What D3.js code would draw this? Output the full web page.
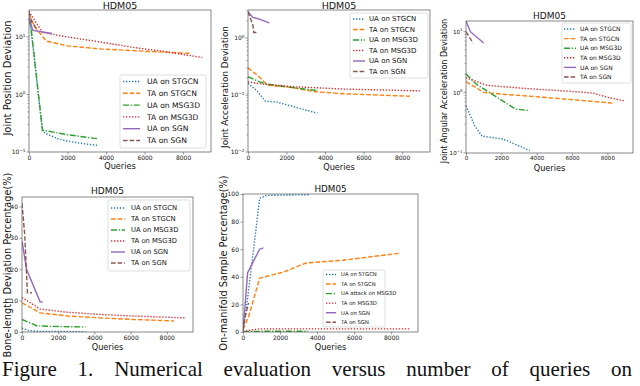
<!DOCTYPE html>
<html>
<head>
<meta charset="utf-8">
<script src="https://cdn.jsdelivr.net/npm/d3@7"></script>
<style>
  body { margin: 0; background: #fff; }
  svg { display: block; }
  text { font-family: "DejaVu Sans", sans-serif; fill: #111; }
</style>
</head>
<body>
<svg id="fig" width="640" height="386"></svg>
<script>
// noms des séries (même ordre partout)
const seriesNames = ["UA on STGCN", "TA on STGCN", "UA on MSG3D", "TA on MSG3D", "UA on SGN", "TA on SGN"];
const seriesNamesManifold = ["UA on STGCN", "TA on STGCN", "UA attack on MSG3D", "TA on MSG3D", "UA on SGN", "TA on SGN"];
const queryTicks = [0, 2000, 4000, 6000, 8000];
const boneTicks = [0, 10, 20, 30, 40];
const manifoldTicks = [0, 20, 40, 60, 80, 100];

// Joint Position Deviation  [queries, valeur]
const posUaStgcn = [[0, 20], [100, 14], [700, 0.23], [1000, 0.2], [1500, 0.17], [2000, 0.155], [2500, 0.145], [3000, 0.137], [3600, 0.13]];
const posTaStgcn = [[0, 25], [300, 15], [900, 8.5], [2000, 7], [3700, 6.2], [5400, 5.8], [7200, 5.4], [8400, 5.2]];
const posUaMsg3d = [[0, 20], [100, 15], [700, 0.24], [1000, 0.23], [2000, 0.2], [3000, 0.18], [3600, 0.17]];
const posTaMsg3d = [[0, 28], [700, 12], [2000, 10], [3700, 8.2], [5400, 6.6], [7200, 5.5], [9000, 4.4]];
const posUaSgn = [[0, 22], [200, 13], [1200, 11.5]];
const posTaSgn = [[0, 27], [150, 18], [400, 14]];

// Joint Acceleration Deviation
const accUaStgcn = [[0, 0.16], [450, 0.12], [900, 0.078], [1500, 0.075], [3600, 0.048]];
const accTaStgcn = [[0, 0.3], [500, 0.22], [1000, 0.15], [2300, 0.135], [3400, 0.115], [5000, 0.105], [6700, 0.1], [8400, 0.095]];
const accUaMsg3d = [[0, 0.21], [600, 0.17], [1000, 0.155], [2300, 0.135], [3600, 0.12]];
const accTaMsg3d = [[0, 0.17], [800, 0.155], [2300, 0.14], [5000, 0.127], [9000, 0.118]];
const accUaSgn = [[0, 2.9], [250, 2.3], [600, 2.15], [1100, 1.85]];
const accTaSgn = [[0, 2.9], [250, 1.7], [300, 1.25], [500, 1.25]];

// Joint Angular Acceleration Deviation
const angUaStgcn = [[0, 0.6], [500, 0.28], [900, 0.19], [2100, 0.17], [3600, 0.11]];
const angTaStgcn = [[0, 1.5], [1000, 1.0], [2100, 0.93], [3500, 0.87], [5000, 0.8], [6900, 0.72], [8400, 0.66]];
const angUaMsg3d = [[0, 2.0], [600, 1.35], [1200, 1.05], [2800, 0.53], [3600, 0.5]];
const angTaMsg3d = [[0, 1.75], [1200, 1.3], [3500, 1.15], [5900, 1.04], [7200, 0.97], [8000, 0.83], [9000, 0.72]];
const angUaSgn = [[0, 15], [250, 10], [1000, 6.5]];
const angTaSgn = [[0, 10], [200, 8], [400, 6.5]];

// Bone-length Deviation Percentage(%)
const boneUaStgcn = [[0, 1.2], [400, 0.4], [1000, 0.2], [3500, 0.1]];
const boneTaStgcn = [[0, 9.3], [1000, 6.1], [2500, 5.1], [4300, 4.5], [6100, 4.0], [8400, 3.5]];
const boneUaMsg3d = [[0, 4], [800, 2.0], [1500, 1.8], [3500, 1.6]];
const boneTaMsg3d = [[0, 11], [1000, 7.3], [2500, 6.3], [4300, 5.6], [6100, 5.1], [9000, 4.5]];
const boneUaSgn = [[0, 29], [250, 20], [1000, 9.6], [1150, 9.6]];
const boneTaSgn = [[0, 41], [150, 31], [300, 12.5], [550, 12.5]];

// On-manifold Sample Percentage(%)
const manUaStgcn = [[0, 0], [300, 30], [750, 80], [900, 97], [1300, 99], [3600, 99.5]];
const manTaStgcn = [[0, 2], [300, 11], [900, 39], [1200, 40], [2200, 43.5], [3400, 50], [5400, 52], [8400, 57]];
const manUaMsg3d = [[0, 0.3], [1000, 0.5], [3500, 0.5]];
const manTaMsg3d = [[0, 0.5], [900, 2.3], [3500, 2.3], [9000, 2.3]];
const manUaSgn = [[0, 0], [250, 43], [900, 60], [1100, 61]];
const manTaSgn = [[0, 1], [100, 10], [300, 21]];

// style matplotlib (tab10 + styles de trait)
const colors = ["#1f77b4", "#ff7f0e", "#2ca02c", "#d62728", "#9467bd", "#8c564b"];
const dashes = ["1.3,1.7", "4.6,2", "6,1.7,1.3,1.7", "1.3,1.7", null, "4.6,2"];

const svg = d3.select("#fig");

function panel(p) {
    const g = svg.append("g");
    const x = d3.scaleLinear().domain([0, 9450]).range([p.left, p.right]);
    const y = (p.log ? d3.scaleLog() : d3.scaleLinear()).domain(p.yDomain).range([p.bottom, p.top]);

    const clipId = "clip-" + p.id;
    svg.append("clipPath").attr("id", clipId)
        .append("rect")
        .attr("x", p.left).attr("y", p.top)
        .attr("width", p.right - p.left).attr("height", p.bottom - p.top);

    const line = d3.line().x(d => x(d[0])).y(d => y(d[1]));

    // courbes
    g.append("g").attr("clip-path", `url(#${clipId})`)
        .selectAll("path")
        .data(p.series)
        .join("path")
        .attr("d", line)
        .attr("fill", "none")
        .attr("stroke", (d, i) => colors[i])
        .attr("stroke-width", 1.4)
        .attr("stroke-dasharray", (d, i) => dashes[i]);

    // cadre
    g.append("rect")
        .attr("x", p.left).attr("y", p.top)
        .attr("width", p.right - p.left).attr("height", p.bottom - p.top)
        .attr("fill", "none").attr("stroke", "#555").attr("stroke-width", 0.7);

    // axe x
    const xa = g.append("g").attr("transform", `translate(0,${p.bottom})`)
        .call(d3.axisBottom(x).tickValues(queryTicks).tickSize(2.5).tickPadding(1).tickFormat(d3.format("d")));
    xa.select(".domain").remove();
    xa.selectAll("line").attr("stroke", "#555").attr("stroke-width", 0.6);
    xa.selectAll("text").style("font-family", "DejaVu Sans").style("font-size", p.tickFs + "px").attr("fill", "#222");

    // axe y
    if (p.log) {
        const [lo, hi] = p.yDomain;
        const minor = [];
        for (let e = Math.floor(Math.log10(lo)); e <= Math.ceil(Math.log10(hi)); e++) {
            for (let m = 2; m < 10; m++) {
                const v = m * Math.pow(10, e);
                if (v > lo && v < hi) minor.push(v);
            }
        }
        g.append("g").selectAll("line").data(minor).join("line")
            .attr("x1", p.left - 1.5).attr("x2", p.left)
            .attr("y1", d => y(d)).attr("y2", d => y(d))
            .attr("stroke", "#555").attr("stroke-width", 0.5);
        const major = p.yTicks;
        g.append("g").selectAll("line").data(major).join("line")
            .attr("x1", p.left - 2.5).attr("x2", p.left)
            .attr("y1", d => y(d)).attr("y2", d => y(d))
            .attr("stroke", "#555").attr("stroke-width", 0.6);
        const lbl = g.append("g").selectAll("text").data(major).join("text")
            .attr("x", p.left - 3.5).attr("y", d => y(d) + 2.2)
            .attr("text-anchor", "end")
            .style("font-size", p.tickFs + "px").attr("fill", "#222");
        lbl.append("tspan").text("10");
        lbl.append("tspan").attr("dy", -2.6).style("font-size", (p.tickFs * 0.7) + "px")
            .text(d => String(Math.round(Math.log10(d))).replace("-", "\u2212"));
    } else {
        const ya = g.append("g").attr("transform", `translate(${p.left},0)`)
            .call(d3.axisLeft(y).tickValues(p.yTicks).tickSize(2.5).tickPadding(1.5));
        ya.select(".domain").remove();
        ya.selectAll("line").attr("stroke", "#555").attr("stroke-width", 0.6);
        ya.selectAll("text").style("font-family", "DejaVu Sans").style("font-size", p.tickFs + "px").attr("fill", "#222");
    }

    // titre et libellés
    g.append("text").attr("x", (p.left + p.right) / 2).attr("y", p.titleY)
        .attr("text-anchor", "middle").style("font-size", p.titleFs + "px").text("HDM05");
    g.append("text").attr("x", (p.left + p.right) / 2).attr("y", p.xLabelY)
        .attr("text-anchor", "middle").style("font-size", "8.2px").text("Queries");
    g.append("text")
        .attr("transform", `translate(${p.yLabelX},${p.yLabelY}) rotate(-90)`)
        .attr("text-anchor", "middle").style("font-size", p.yLabelFs + "px").text(p.yLabel);

    // légende
    const L = p.legend;
    const lg = g.append("g");
    lg.append("rect")
        .attr("x", L.x).attr("y", L.y).attr("width", L.w).attr("height", L.h)
        .attr("rx", 1.5).attr("fill", "#fff").attr("fill-opacity", 0.8)
        .attr("stroke", "#d0d0d0").attr("stroke-width", 0.7);
    const rows = lg.selectAll("g").data(p.names).join("g")
        .attr("transform", (d, i) => `translate(0,${L.y0 + i * L.step})`);
    rows.append("line")
        .attr("x1", L.lx1).attr("x2", L.lx2)
        .attr("stroke", (d, i) => colors[i])
        .attr("stroke-width", 1.4)
        .attr("stroke-dasharray", (d, i) => dashes[i]);
    rows.append("text")
        .attr("x", L.tx).attr("dy", "0.35em")
        .style("font-size", L.fs + "px")
        .text(d => d);
}

panel({
    id: "pos", log: true, left: 29, right: 211, top: 10, bottom: 152,
    yDomain: [0.1, 29.5], yTicks: [10, 1, 0.1],
    series: [posUaStgcn, posTaStgcn, posUaMsg3d, posTaMsg3d, posUaSgn, posTaSgn],
    names: seriesNames, tickFs: 6, titleFs: 9.5, titleY: 8.5, xLabelY: 169,
    yLabel: "Joint Position Deviation", yLabelX: 11, yLabelY: 78, yLabelFs: 10,
    legend: { x: 120, y: 75, w: 86, h: 73, y0: 81.5, step: 11.8, lx1: 123, lx2: 140, tx: 147, fs: 7.6 }
});

panel({
    id: "acc", log: true, left: 248, right: 430, top: 10, bottom: 152,
    yDomain: [0.01, 3.1], yTicks: [1, 0.1, 0.01],
    series: [accUaStgcn, accTaStgcn, accUaMsg3d, accTaMsg3d, accUaSgn, accTaSgn],
    names: seriesNames, tickFs: 6, titleFs: 9.5, titleY: 8.5, xLabelY: 169.5,
    yLabel: "Joint Acceleration Deviation", yLabelX: 227.5, yLabelY: 87, yLabelFs: 8.8,
    legend: { x: 350, y: 13, w: 78, h: 65, y0: 19, step: 10.5, lx1: 353, lx2: 365, tx: 369, fs: 7 }
});

panel({
    id: "ang", log: true, left: 466, right: 633, top: 21, bottom: 153,
    yDomain: [0.1, 15], yTicks: [10, 1, 0.1],
    series: [angUaStgcn, angTaStgcn, angUaMsg3d, angTaMsg3d, angUaSgn, angTaSgn],
    names: seriesNames, tickFs: 5.6, titleFs: 9, titleY: 18.5, xLabelY: 170.5,
    yLabel: "Joint Angular Acceleration Deviation", yLabelX: 447, yLabelY: 91, yLabelFs: 8,
    legend: { x: 562, y: 23, w: 69, h: 60, y0: 29, step: 9.6, lx1: 564, lx2: 576, tx: 580, fs: 6 }
});

panel({
    id: "bone", log: false, left: 22, right: 193, top: 197, bottom: 332,
    yDomain: [0, 43], yTicks: boneTicks,
    series: [boneUaStgcn, boneTaStgcn, boneUaMsg3d, boneTaMsg3d, boneUaSgn, boneTaSgn],
    names: seriesNames, tickFs: 6, titleFs: 9, titleY: 194, xLabelY: 349.5,
    yLabel: "Bone-length Deviation Percentage(%)", yLabelX: 11, yLabelY: 265, yLabelFs: 9.8,
    legend: { x: 108, y: 200, w: 82, h: 71, y0: 208, step: 11, lx1: 111, lx2: 125, tx: 131, fs: 6.8 }
});

panel({
    id: "man", log: false, left: 243, right: 418, top: 194, bottom: 332,
    yDomain: [0, 100], yTicks: manifoldTicks,
    series: [manUaStgcn, manTaStgcn, manUaMsg3d, manTaMsg3d, manUaSgn, manTaSgn],
    names: seriesNamesManifold, tickFs: 6, titleFs: 8.8, titleY: 192, xLabelY: 349.5,
    yLabel: "On-manifold Sample Percentage(%)", yLabelX: 227, yLabelY: 263, yLabelFs: 9.8,
    legend: { x: 323, y: 270, w: 62, h: 57, y0: 274.5, step: 9.55, lx1: 326, lx2: 336, tx: 341, fs: 5.3 }
});

// légende de la figure, justifiée sur toute la largeur
const captionWords = "Figure 1. Numerical evaluation versus number of queries on".split(" ");
const cap = svg.append("g");
const wordNodes = captionWords.map(w => cap.append("text")
    .attr("y", 376)
    .style("font-family", "'Liberation Serif', serif")
    .style("font-size", "21px")
    .text(w));
const widths = wordNodes.map(n => n.node().getComputedTextLength());
const gap = (632 - 2 - d3.sum(widths)) / (captionWords.length - 1);
let cx = 2;
wordNodes.forEach((n, i) => { n.attr("x", cx); cx += widths[i] + gap; });
</script>
</body>
</html>
